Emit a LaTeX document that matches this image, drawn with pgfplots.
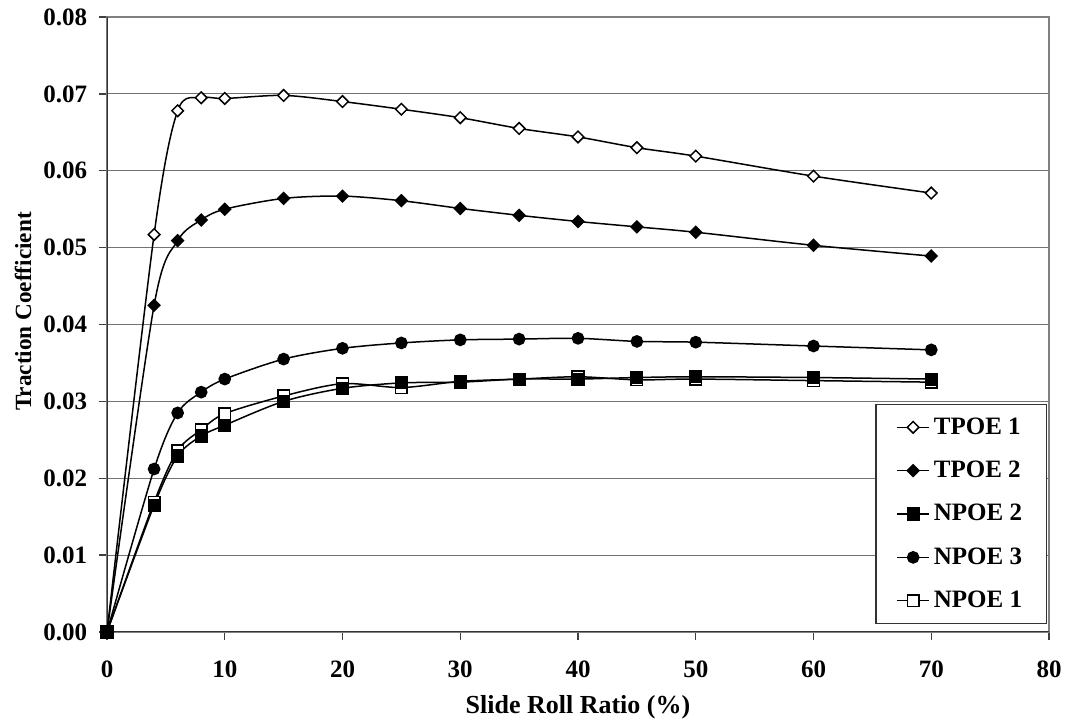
\documentclass[border=0pt]{standalone}
\usepackage{fontspec}
\setmainfont{Liberation Serif}
\usepackage{pgfplots}
\pgfplotsset{compat=1.18}
\begin{document}
\begin{tikzpicture}
\useasboundingbox (-53.5pt,-44.5pt) rectangle (479.5pt,316pt);
\begin{axis}[
  at={(0,0)}, anchor=south west,
  scale only axis,
  width=471pt, height=307.5pt,
  xmin=0, xmax=80, ymin=0, ymax=0.08,
  xtick={0,10,...,80},
  ytick={0,0.01,...,0.08},
  ymajorgrids,
  major grid style={draw=black!55, line width=0.6pt},
  axis line style={draw=black!50, line width=0.7pt},
  tick style={draw=black!75, line width=0.7pt},
  tick align=outside,
  major tick length=4pt,
  xtick pos=bottom, ytick pos=left,
  /pgf/number format/assume math mode=true,
  yticklabel style={/pgf/number format/fixed, /pgf/number format/precision=2, /pgf/number format/fixed zerofill, xshift=-2.4pt},
  scaled y ticks=false,
  ticklabel style={font=\fontsize{12.5}{15}\selectfont\bfseries},
  xticklabel style={yshift=-7pt},
  xlabel={Slide Roll Ratio (\%)},
  ylabel={Traction Coefficient},
  xlabel style={font=\fontsize{13}{15}\selectfont\bfseries, at={(axis description cs:0.5,-0.1228)}, anchor=center},
  ylabel style={font=\fontsize{11.6}{14}\selectfont\bfseries, at={(axis description cs:-0.0892,0.521)}, anchor=center},
  legend style={at={(rel axis cs:0.998,0.013)}, anchor=south east, draw=black!80, line width=0.6pt,
    font=\fontsize{12.5}{15}\selectfont\bfseries, row sep=7.9pt, inner xsep=10.2pt, inner ysep=4.45pt,
    nodes={inner sep=2pt}},
  legend cell align=left,
  legend image code/.code={\draw[mark repeat=2,mark phase=2] plot coordinates {(0pt,0pt) (8pt,0pt) (16pt,0pt)};},
  every axis plot/.append style={black, line width=0.75pt, smooth},
]
\draw[black!80, line width=0.8pt] (rel axis cs:0,1) -- (rel axis cs:0,0) -- (rel axis cs:1,0);
\addplot[mark=square*, mark size=2.9pt, mark options={fill=white}, forget plot] coordinates {
(0,0) (4,0.0169) (6,0.0236) (8,0.0263) (10,0.0284) (15,0.0307) (20,0.0323) (25,0.0318) (30,0.0326) (35,0.0329) (40,0.0332) (45,0.0328) (50,0.0329) (60,0.0327) (70,0.0325)};
\addplot[mark=square*, mark size=2.05pt, mark options={fill=white, rotate=45}] coordinates {
(0,0) (4,0.0517) (6,0.0678) (8,0.0695) (10,0.0694) (15,0.0698) (20,0.0690) (25,0.0680) (30,0.0669) (35,0.0655) (40,0.0644) (45,0.0630) (50,0.0619) (60,0.0593) (70,0.0571)};
\addlegendentry{TPOE 1}
\addplot[mark=square*, mark size=2.05pt, mark options={fill=black, rotate=45}] coordinates {
(0,0) (4,0.0425) (6,0.0509) (8,0.0536) (10,0.0550) (15,0.0564) (20,0.0567) (25,0.0561) (30,0.0551) (35,0.0542) (40,0.0534) (45,0.0527) (50,0.0520) (60,0.0503) (70,0.0489)};
\addlegendentry{TPOE 2}
\addplot[mark=square*, mark size=2.9pt, mark options={fill=black}] coordinates {
(0,0) (4,0.0165) (6,0.0229) (8,0.0255) (10,0.0269) (15,0.0300) (20,0.0317) (25,0.0324) (30,0.0325) (35,0.0329) (40,0.0329) (45,0.0331) (50,0.0332) (60,0.0331) (70,0.0329)};
\addlegendentry{NPOE 2}
\addplot[mark=*, mark size=2.8pt, mark options={fill=black}] coordinates {
(0,0) (4,0.0212) (6,0.0285) (8,0.0312) (10,0.0329) (15,0.0355) (20,0.0369) (25,0.0376) (30,0.0380) (35,0.0381) (40,0.0382) (45,0.0378) (50,0.0377) (60,0.0372) (70,0.0367)};
\addlegendentry{NPOE 3}
\addlegendimage{black, line width=0.75pt, mark=square*, mark size=2.9pt, mark options={fill=white}}
\addlegendentry{NPOE 1}
\end{axis}
\end{tikzpicture}
\end{document}
